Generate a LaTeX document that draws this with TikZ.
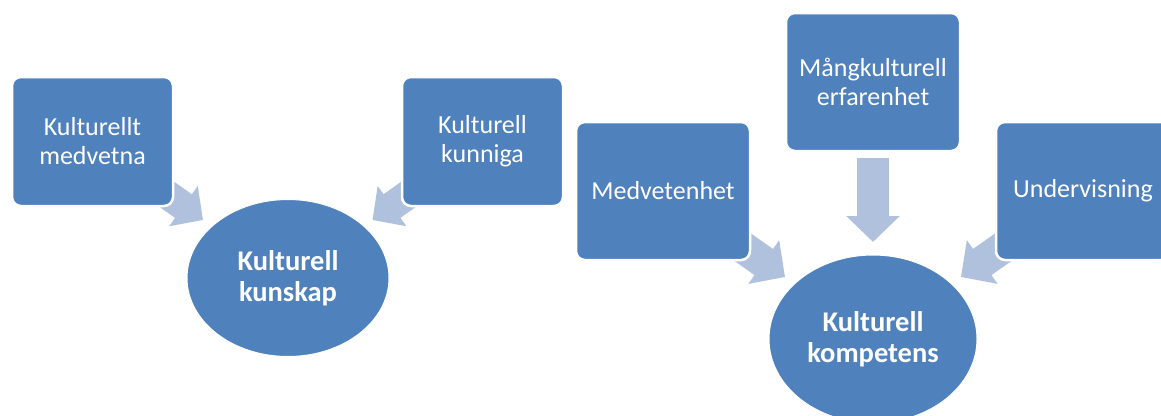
\documentclass[tikz,border=0pt]{standalone}
\usepackage{fontspec}
\setmainfont{Carlito}
\usetikzlibrary{arrows.meta,backgrounds,shapes.geometric}
\definecolor{boxblue}{HTML}{4F81BD}
\definecolor{arrowblue}{HTML}{B0C1DD}

\begin{document}
\begin{tikzpicture}[x=1pt,y=-1pt,
	box/.style={rectangle,rounded corners=9pt,fill=boxblue,draw=white,line width=2.5pt,text=white,align=center,inner sep=0pt,font=\fontsize{26}{29}\selectfont},
	goal/.style={ellipse,fill=boxblue,draw=white,line width=1pt,text=white,align=center,inner sep=0pt,font=\fontsize{28.5}{31}\selectfont\bfseries},
	smallarrow/.style={arrowblue,line width=29pt,-{Triangle[length=24pt,width=48pt]}},
	bigarrow/.style={arrowblue,line width=32pt,-{Triangle[length=26pt,width=52pt]}}]
	
	\useasboundingbox (0,0) rectangle (1161,415);
	\clip (0,0) rectangle (1161,415);
	
	\node[box,minimum width=161pt,minimum height=129pt] (medvetna) at (92.5,141.5) {Kulturellt\\medvetna};
	\node[box,minimum width=161pt,minimum height=129pt] (kunniga) at (482.5,141.5) {Kulturell\\kunniga};
	\node[goal,minimum width=202pt,minimum height=157pt] (kunskap) at (288,278) {Kulturell\\kunskap};
	
	\node[box,minimum width=174pt,minimum height=138pt] (medvetenhet) at (663,191) {Medvetenhet};
	\node[box,minimum width=174pt,minimum height=138pt] (erfarenhet) at (873,82) {Mångkulturell\\erfarenhet};
	\node[box,minimum width=174pt,minimum height=138pt] (undervisning) at (1083,191) {Undervisning};
	\node[goal,minimum width=208pt,minimum height=168pt] (kompetens) at (873,339) {Kulturell\\kompetens};
	
	\coordinate (t1) at (203,220);
	\coordinate (t2) at (372.5,220);
	\coordinate (t3) at (785,277);
	\coordinate (t4) at (873,242);
	\coordinate (t5) at (961,277);
	
	\begin{scope}[on background layer]
	\draw[smallarrow] (medvetna.center) -- (t1);
	\draw[smallarrow] (kunniga.center) -- (t2);
	\draw[bigarrow] (medvetenhet.center) -- (t3);
	\draw[bigarrow,shorten <=6pt] (erfarenhet.south) -- (t4);
	\draw[bigarrow] (undervisning.center) -- (t5);
	\end{scope}
	
\end{tikzpicture}
\end{document}
